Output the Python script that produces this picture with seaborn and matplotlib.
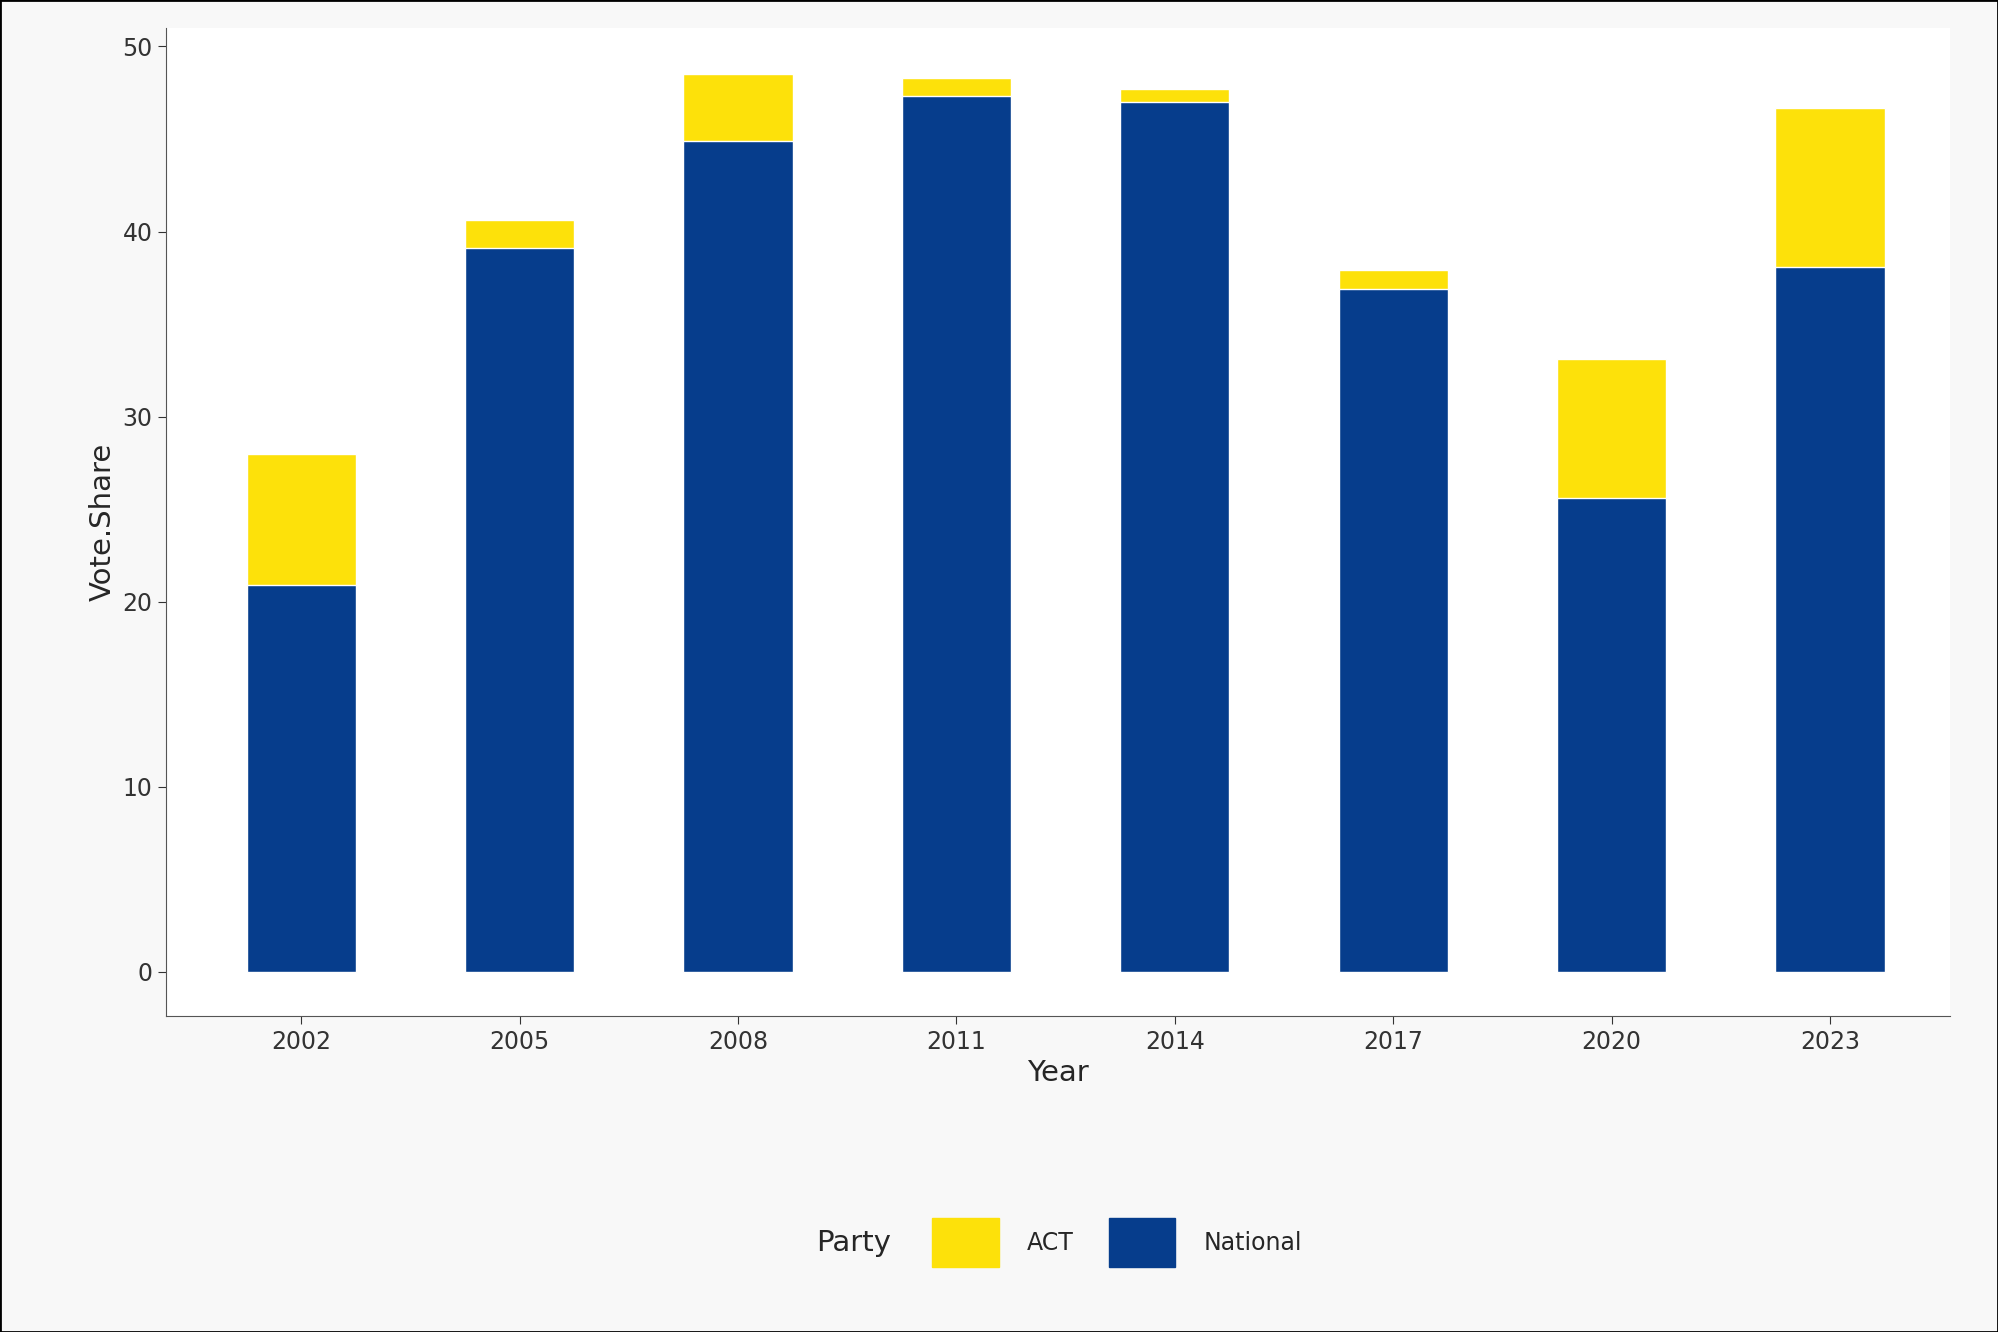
import pandas as pd
import numpy as np
import seaborn as sns
import matplotlib.pyplot as plt
from matplotlib.patches import Patch

years = ["2002", "2005", "2008", "2011", "2014", "2017", "2020", "2023"]
national = [20.9, 39.1, 44.9, 47.3, 47.0, 36.9, 25.6, 38.1]
act = [7.1, 1.5, 3.6, 1.0, 0.7, 1.0, 7.5, 8.6]

df = pd.DataFrame({"Year": years, "National": national, "ACT": act})
df["Total"] = df["National"] + df["ACT"]

sns.set_style("white")
plt.rcParams['font.family'] = ['DejaVu Sans']

fig = plt.figure(figsize=(19.98, 13.32), dpi=100, facecolor="#f8f8f8")
ax = fig.add_axes([0.083, 0.237, 0.893, 0.742])
ax.set_facecolor("white")

sns.barplot(data=df, x="Year", y="Total", color="#FDE10A", width=0.5,
            saturation=1, ax=ax)
sns.barplot(data=df, x="Year", y="National", color="#063D8C", width=0.5,
            saturation=1, ax=ax)

ax.set_ylim(-2.4, 51)
ax.set_xlim(-0.62, 7.55)
ax.set_yticks([0, 10, 20, 30, 40, 50])
ax.set_xlabel("Year", fontsize=21)
ax.set_ylabel("Vote.Share", fontsize=21)
ax.tick_params(axis="both", labelsize=17, colors="#333333", length=6,
               color="#333333", left=True, bottom=True)
for s in ["top", "right"]:
    ax.spines[s].set_visible(False)
for s in ["left", "bottom"]:
    ax.spines[s].set_color("#555555")

handles = [Patch(color="#FDE10A", label="ACT"), Patch(color="#063D8C", label="National")]
fig.legend(handles=handles, title="Party", loc="center", bbox_to_anchor=(0.53, 0.067),
           ncol=2, frameon=False, fontsize=17, title_fontsize=21,
           handlelength=2.8, handleheight=2.8, columnspacing=1.5, handletextpad=1.2)
leg = fig.legends[0]
leg._legend_box.align = "left"
# put title to the left of entries
from matplotlib.offsetbox import HPacker
box = leg._legend_box
box._children = [HPacker(children=box._children, pad=0, sep=30, align="center")]

fig.patches.append(plt.Rectangle((0, 0), 1, 1, transform=fig.transFigure,
                                 fill=False, edgecolor="black", linewidth=2))
fig.savefig("out.png", dpi=100, facecolor=fig.get_facecolor())
